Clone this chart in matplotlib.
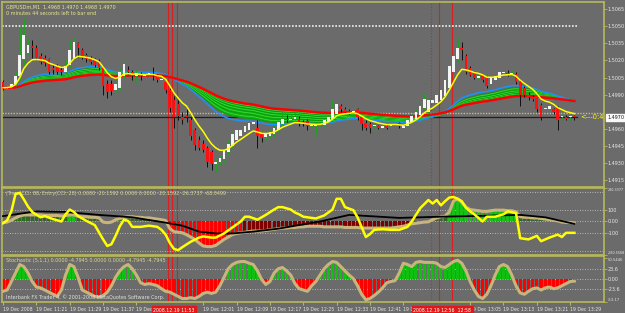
import numpy as np
import pandas as pd
import matplotlib.pyplot as plt
from matplotlib.transforms import blended_transform_factory

# GBPUSDm M1, 19 Dec 2008, one bar per minute starting 11:13
# prices kept as pips above 1.4900
base_price = 1.4900
open_pips = [101, 96, 97, 99, 106, 121, 127, 133, 131, 124, 122, 121, 113, 115, 112, 110, 116, 122, 135, 129,
             125, 122, 121, 119, 113, 99, 99, 94, 96, 106, 112, 110, 106, 107, 106, 107, 108, 106, 103, 101,
             94, 85, 82, 70, 71, 68, 59, 50, 47, 43, 40, 29, 31, 33, 40, 45, 50, 54, 57, 59,
             64, 61, 55, 53, 54, 55, 59, 64, 69, 68, 69, 69, 66, 67, 62, 62, 63, 63, 66, 69,
             73, 80, 77, 76, 75, 77, 70, 65, 64, 62, 62, 61, 62, 62, 63, 65, 61, 62, 66, 69,
             72, 78, 75, 83, 83, 85, 89, 96, 110, 121, 131, 124, 113, 109, 105, 106, 105, 99, 103, 105,
             109, 109, 108, 108, 101, 96, 90, 88, 89, 81, 77, 77, 77, 78, 70, 70, 70, 71]
high_pips = [103, 99, 103, 110, 149, 157, 140, 138, 134, 127, 125, 122, 117, 117, 115, 121, 138, 140, 136, 131,
             127, 124, 122, 121, 115, 103, 103, 101, 113, 119, 115, 112, 112, 110, 110, 112, 114, 108, 106, 103,
             96, 89, 85, 75, 77, 70, 61, 54, 50, 45, 41, 34, 37, 43, 50, 57, 61, 62, 64, 68,
             69, 68, 57, 57, 59, 63, 68, 76, 72, 72, 75, 71, 68, 69, 66, 65, 66, 69, 72, 85,
             87, 82, 79, 77, 77, 78, 71, 68, 66, 64, 63, 63, 63, 66, 66, 66, 64, 69, 73, 77,
             82, 91, 87, 88, 92, 98, 105, 119, 131, 140, 136, 126, 115, 111, 108, 108, 106, 106, 108, 112,
             113, 112, 112, 110, 103, 98, 92, 90, 91, 83, 80, 82, 78, 80, 73, 72, 72, 72]
low_pips = [94, 94, 96, 98, 103, 115, 125, 122, 121, 117, 115, 108, 108, 108, 107, 108, 114, 121, 123, 121,
            119, 117, 114, 112, 90, 87, 90, 92, 94, 105, 108, 103, 101, 103, 105, 106, 103, 101, 94, 91,
            75, 61, 68, 64, 66, 50, 41, 41, 40, 26, 24, 22, 28, 31, 37, 43, 48, 52, 55, 57,
            62, 43, 48, 50, 52, 54, 57, 62, 66, 66, 68, 62, 62, 59, 61, 54, 62, 62, 65, 68,
            71, 75, 74, 73, 74, 68, 59, 59, 56, 61, 60, 60, 60, 61, 62, 61, 60, 62, 65, 68,
            71, 77, 73, 81, 82, 84, 87, 94, 106, 119, 120, 108, 106, 104, 104, 101, 96, 98, 101, 103,
            106, 106, 106, 99, 80, 88, 85, 84, 75, 68, 75, 75, 73, 59, 69, 68, 68, 68]
close_pips = [96, 97, 99, 106, 125, 142, 134, 131, 122, 119, 118, 110, 112, 110, 110, 115, 129, 136, 131, 122,
              121, 119, 116, 113, 98, 92, 93, 99, 110, 117, 110, 106, 109, 106, 107, 109, 107, 103, 104, 94,
              78, 70, 71, 68, 70, 54, 46, 43, 41, 31, 29, 31, 34, 41, 47, 55, 59, 59, 62, 65,
              66, 54, 52, 55, 57, 61, 66, 69, 68, 69, 70, 64, 64, 62, 63, 63, 64, 68, 70, 77,
              82, 77, 75, 75, 76, 70, 64, 61, 61, 63, 61, 62, 61, 64, 64, 62, 62, 68, 71, 75,
              80, 86, 85, 85, 90, 94, 103, 115, 124, 131, 129, 110, 107, 105, 106, 103, 98, 105, 106, 110,
              110, 108, 109, 101, 90, 90, 88, 86, 77, 70, 78, 80, 75, 68, 71, 69, 71, 70]

# TrendCCI histogram, one value per bar
trend_cci = [-10, -5, 10, 30, 45, 55, 55, 55, 55, 55, 50, 50, 50, 50, 45, 50, 55, 55, 45, 40,
             40, 35, 35, 30, -5, -10, -5, 15, 25, 35, 40, 40, 35, 35, 30, 30, 25, 20, 15, 8,
             -60, -85, -90, -95, -110, -130, -150, -180, -205, -210, -210, -200, -175, -150, -130, -110, -100, -95, -90, -85,
             -80, -80, -80, -75, -70, -65, -60, -55, -55, -50, -50, -45, -45, -40, -40, -40, -40, -45, -45, -45,
             -45, -45, -50, -50, -50, -50, -55, -55, -55, -55, -55, -55, -55, -55, -50, -45, -40, -30, -20, -15,
             -10, -5, -3, 15, 30, 40, 45, 80, 170, 190, 160, 120, 100, 95, 90, 85, 85, 90, 95, 95,
             95, 90, 90, 80, 40, 35, 35, 30, 30, 25, 20, 15, 10, 5, -5, -8, -8, -10]
strong_up = [(16, 17), (107, 123)]
strong_down = [(40, 57), (98, 102)]

# Entry CCI (yellow) and its average (black), read at these bars
entry_bar = [0, 1, 2, 3, 4, 5, 6, 7, 9, 10, 12, 14, 15, 16, 17, 18, 20, 22, 23, 24, 25, 26, 27, 28, 29, 30, 31, 33,
             35, 37, 38, 39, 40, 41, 42, 43, 45, 47, 48, 50, 51, 53, 55, 57, 58, 59, 61, 63, 65, 66, 67, 69,
             70, 71, 72, 74, 75, 77, 79, 80, 81, 82, 84, 85, 87, 88, 89, 91, 93, 95, 97, 98, 100, 102, 103,
             104, 105, 106, 107, 108, 109, 110, 111, 112, 113, 115, 116, 118, 120, 121, 123, 124, 126, 128,
             129, 131, 133, 134, 135, 137]
entry_val = [-15, 10, 85, 230, 240, 185, 125, 80, 35, 45, 20, 0, 60, 100, 80, 45, 5, -30, -90, -150, -205, -190,
             -120, -40, 15, 5, -45, -45, -35, -45, -70, -110, -180, -230, -240, -215, -170, -135, -125, -135,
             -135, -100, -50, 0, 40, 40, 15, 55, 100, 120, 120, 100, 75, 60, 40, 30, 25, 50, 100, 190, 190,
             120, 95, 35, -130, -105, -70, -65, -70, -70, -45, 0, 110, 180, 150, 180, 135, 170, 200, 205, 190,
             170, 115, 85, 60, 0, 40, 40, 60, 85, 70, -140, -150, -120, -165, -135, -110, -130, -95, -95]
signal_bar = [0, 8, 15, 23, 31, 39, 43, 47, 51, 55, 60, 66, 71, 76, 83, 95, 105, 112, 124, 130, 137]
signal_val = [45, 85, 80, 55, 35, -10, -35, -85, -100, -100, -85, -60, -30, 0, 55, 30, 40, 45, 55, 35, -20]

# Stochastic (5,1,1) histogram, one value per bar
stoch = [-28, -25, -5, 15, 35, 30, 15, -5, -18, -20, -25, -30, -35, -40, -25, 10, 35, 30, 5, -25,
         -30, -35, -40, -42, -38, -30, -15, 5, 20, 30, 35, 25, 10, -8, -12, -10, -12, -15, -22, -28,
         -30, -35, -40, -45, -45, -43, -45, -40, -33, -30, -33, -30, -15, 5, 25, 35, 40, 42, 42, 38,
         35, 20, 0, -12, -5, 15, 25, 28, 20, 10, -10, -22, -25, -28, -15, -5, 10, 25, 35, 42,
         40, 30, 20, 10, 2, -15, -35, -48, -45, -38, -30, -20, -8, -5, -3, 15, 38, 35, 30, 40,
         42, 40, 40, 40, 38, 30, 28, 35, 42, 45, 38, 20, -5, -25, -40, -45, -35, -15, 10, 30,
         35, 30, 10, -15, -32, -35, -28, -22, -20, -25, -20, -18, -22, -20, -15, -10, -5, -4]

price_ticks = [1.5065, 1.5050, 1.5035, 1.5020, 1.5005, 1.4990, 1.4960, 1.4945, 1.4930, 1.4915]
time_bars = [0, 8, 16, 24, 32, 48, 56, 64, 72, 80, 88, 96, 112, 120, 128, 136]
time_labels = ['19 Dec 2008', '19 Dec 11:21', '19 Dec 11:29', '19 Dec 11:37', '19 Dec',
               '19 Dec 12:01', '19 Dec 12:09', '19 Dec 12:17', '19 Dec 12:25', '19 Dec 12:33',
               '19 Dec 12:41', '19 D', '19 Dec 13:05', '19 Dec 13:13', '19 Dec 13:21', '19 Dec 13:29']
event_bars = [39.6, 40.5, 41.6, 102.6, 104.6, 107.7]
event_labels = ['2008.12.19 11:53', '2008.12.19 12:56  12:58']
level_hi, level_ask, bid = 1.5050, 1.4974, 1.4970

BG = '#6b6b6b'
FRAME = '#b8b85c'
TXT = '#e8e8e8'
TAN = '#c8b47c'
FS = 3.5

o = base_price + np.array(open_pips) / 1e4
h = base_price + np.array(high_pips) / 1e4
l = base_price + np.array(low_pips) / 1e4
c = base_price + np.array(close_pips) / 1e4
idx = np.arange(len(c))

fig = plt.figure(figsize=(6.25, 3.13), dpi=100, facecolor=BG)
W, H = 625, 313


def box(x0, y0, x1, y1):
    return [x0 / W, 1 - y1 / H, (x1 - x0) / W, (y1 - y0) / H]


ax_p = fig.add_axes(box(2, 2, 604, 187))
ax_c = fig.add_axes(box(2, 188, 604, 255))
ax_s = fig.add_axes(box(2, 256, 604, 302))

for ax in (ax_p, ax_c, ax_s):
    ax.set_facecolor(BG)
    ax.set_xlim(-0.24, 144.1)
    for sp in ax.spines.values():
        sp.set_color(FRAME)
        sp.set_linewidth(1.2)
    ax.yaxis.tick_right()
    ax.tick_params(axis='y', colors=FRAME, labelcolor=TXT, labelsize=FS, length=2, width=0.6, pad=0.5)
    ax.tick_params(axis='x', length=0, labelbottom=False)
    for xb in event_bars:
        ls = ':' if xb in (102.6,) else '-'
        ax.axvline(xb, color='#d82020', lw=0.8, ls=ls, zorder=1)


def edge_labels(ax, size=2.7):
    labs = ax.get_yticklabels()
    labs[0].set_va('top')
    labs[-1].set_va('bottom')
    for lab in (labs[0], labs[-1]):
        lab.set_fontsize(size)


# ---- price panel
ax_p.set_ylim(1.49088, 1.50714)
ax_p.set_yticks(price_ticks)
ax_p.set_yticklabels(['%.4f' % t for t in price_ticks])
ax_p.axhline(level_hi, xmax=0.955, color='#f0f0f0', lw=1.2, ls=(0, (1, 1)), zorder=2)
ax_p.axhline(level_ask, color='#c8b890', lw=1.0, ls=(0, (1, 1)), zorder=2)
ax_p.axhline(bid, xmax=0.955, color='#202020', lw=0.9, zorder=2)

close_s = pd.Series(c)
ribbon = [close_s.ewm(span=n, adjust=False).mean().values for n in range(34, 64, 3)]
rib = np.array(ribbon)
ax_p.fill_between(idx, rib.min(axis=0), rib.max(axis=0), color='#10b010', lw=0, zorder=3)
for k, r in enumerate(ribbon):
    ax_p.plot(idx, r, color='#3ee03e' if k % 2 else '#0a9a0a', lw=0.5, zorder=3)
ax_p.plot(idx, close_s.ewm(span=30, adjust=False).mean(), color='#1e90ff', lw=1.1, zorder=4)
ax_p.plot(idx, close_s.ewm(span=66, adjust=False).mean(), color='#ff0000', lw=1.8, zorder=4)
ax_p.plot(idx, close_s.ewm(span=8, adjust=False).mean(), color='#ffff00', lw=1.1, zorder=6)

up = c >= o
ax_p.vlines(idx[up], l[up], h[up], color='#22a022', lw=0.7, zorder=5)
ax_p.vlines(idx[~up], l[~up], h[~up], color='#101010', lw=0.7, zorder=5)
body_lo = np.minimum(o, c)
body_h = np.maximum(np.abs(c - o), 0.00003)
ax_p.bar(idx[up], body_h[up], bottom=body_lo[up], width=0.65, color='#f4f4f4', lw=0, zorder=5)
ax_p.bar(idx[~up], body_h[~up], bottom=body_lo[~up], width=0.65, color='#ff1010', lw=0, zorder=5)

ax_p.text(0.006, 0.985, 'GBPUSDm,M1  1.4968 1.4970 1.4968 1.4970', transform=ax_p.transAxes,
          color='#e6e68c', fontsize=FS, va='top', ha='left')
ax_p.text(0.006, 0.95, '0 minutes 44 seconds left to bar end', transform=ax_p.transAxes,
          color='#e6e68c', fontsize=FS, va='top', ha='left')
ax_p.text(138.5, bid, '<---0:4', color='#ffff00', fontsize=4.8, va='center', ha='left',
          clip_on=True, zorder=7)
trp = blended_transform_factory(ax_p.transAxes, ax_p.transData)
ax_p.text(1.006, bid, '1.4970', transform=trp, color='#202020', fontsize=FS, va='center', ha='left',
          bbox=dict(boxstyle='square,pad=0.25', fc='#f8f8f8', ec='#f8f8f8'))

# ---- CCI panel
ax_c.set_ylim(-280.5568, 280.3377)
ax_c.set_yticks([280.3377, 100, 0, -100, -280.5568])
ax_c.set_yticklabels(['280.3377', '100', '0.00', '-100', '-280.5568'])
edge_labels(ax_c, 2.4)
for lv in (250, 100, 0, -100, -250):
    ax_c.axhline(lv, color='#d0d0d0', lw=0.6, ls=(0, (1, 2)), zorder=1)
tc = np.array(trend_cci)
cols = np.where(tc >= 0, '#2f6a22', '#800000').astype(object)
for a, b in strong_up:
    cols[a:b + 1] = '#18c018'
for a, b in strong_down:
    cols[a:b + 1] = '#ff0000'
ax_c.bar(idx, tc, width=0.75, color=list(cols), lw=0, zorder=2)
ax_c.plot(idx, tc, color=TAN, lw=2.2, zorder=3)
ax_c.plot(signal_bar, signal_val, color='#000000', lw=1.3, zorder=4)
ax_c.plot(entry_bar, entry_val, color='#ffff00', lw=1.8, zorder=5)
ax_c.text(0.006, 0.95, '(TrendCCI: 88, Entry(CCI: 28) 0.0000 -20.1592 0.0000 0.0000 -20.1592 -26.3737 -68.0499',
          transform=ax_c.transAxes, color='#d8d890', fontsize=FS, va='top', ha='left')

# ---- Stochastic panel
ax_s.set_ylim(-53.17, 55.0)
ax_s.set_yticks([50.5446, 23.6, 0, -23.6, -53.17])
ax_s.set_yticklabels(['50.5446', '23.6', '0.00', '-23.6', '-53.17'])
edge_labels(ax_s)
for lv in (23.6, 0, -23.6):
    ax_s.axhline(lv, color='#d0d0d0', lw=0.6, ls=(0, (1, 2)), zorder=1)
st = np.array(stoch)
ax_s.bar(idx, st, width=0.75, color=np.where(st >= 0, '#10c010', '#ff0000'), lw=0, zorder=2)
ax_s.plot(idx, st, color=TAN, lw=2.2, zorder=3)
ax_s.text(0.006, 0.95, 'Stochastic (5,1,1) 0.0000 -4.7945 0.0000 0.0000 -4.7945 -4.7945',
          transform=ax_s.transAxes, color='#d8d890', fontsize=FS, va='top', ha='left')
ax_s.text(0.006, 0.04, 'Interbank FX Trader 4, \u00a9 2001-2008 MetaQuotes Software Corp.',
          transform=ax_s.transAxes, color='#e0e0e0', fontsize=FS, va='bottom', ha='left')

# time axis
ax_s.set_xticks(time_bars)
ax_s.set_xticklabels(time_labels)
ax_s.tick_params(axis='x', labelbottom=True, labelsize=3.3, labelcolor=TXT, length=2, color=FRAME, pad=1.5)
for lab in ax_s.get_xticklabels():
    lab.set_ha('left')
trs = blended_transform_factory(ax_s.transData, ax_s.transAxes)
red_box = dict(boxstyle='square,pad=0.3', fc='#e01818', ec='#e01818')
ax_s.text(event_bars[0] - 3.6, -0.12, event_labels[0], transform=trs, color='#ffffff', fontsize=3.3,
          va='top', ha='left', bbox=red_box, zorder=8)
ax_s.text(event_bars[3] - 4.2, -0.12, event_labels[1], transform=trs, color='#ffffff', fontsize=3.3,
          va='top', ha='left', bbox=red_box, zorder=8)

fig.savefig('out.png', dpi=100, facecolor=BG)
